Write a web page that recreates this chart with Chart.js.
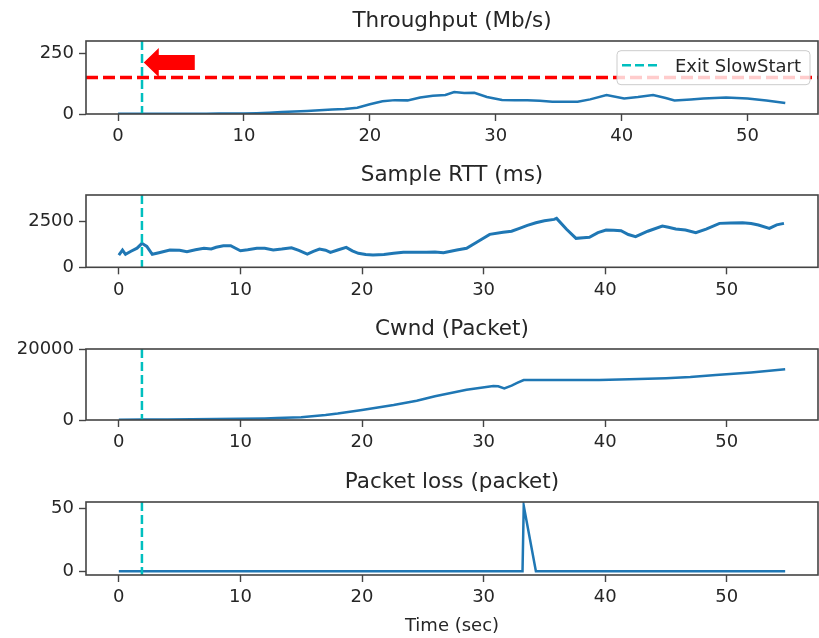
<!DOCTYPE html>
<html>
<head>
<meta charset="utf-8">
<title>TCP flow metrics</title>
<script src="https://cdn.jsdelivr.net/npm/chart.js@4.4.1/dist/chart.umd.min.js"></script>
<style>
  html, body { margin: 0; padding: 0; background: #fff; }
  #wrap { position: relative; width: 819px; height: 638px; overflow: hidden; }
  .panel { position: absolute; left: 0; width: 819px; }
  .panel canvas { display: block; }
</style>
</head>
<body>
<div id="wrap">
  <div class="panel" style="top:0px"><canvas id="throughput-chart" width="819" height="154"></canvas></div>
  <div class="panel" style="top:154px"><canvas id="rtt-chart" width="819" height="154"></canvas></div>
  <div class="panel" style="top:308px"><canvas id="cwnd-chart" width="819" height="154"></canvas></div>
  <div class="panel" style="top:461px"><canvas id="loss-chart" width="819" height="177"></canvas></div>
</div>
<script>
// --- data (seconds since flow start) ---
const throughputTime = [0, 1, 2, 3, 4, 5, 6, 7, 8, 9, 10, 11, 12, 13, 14, 15, 16, 17, 18, 19, 20, 21, 22, 23, 24, 25, 26, 26.7, 27.5, 28.3, 29.3, 30.5, 31.5, 32.5, 33.5, 34.5, 36.5, 37.5, 38.8, 40.2, 41.3, 42.5, 43.5, 44.2, 45.5, 46.5, 48.3, 50, 51.5, 53];
const throughputMbps = [1, 1, 1, 1, 1, 1, 1, 1, 2, 2, 2, 3, 5, 8, 10, 12, 15, 18, 21, 26, 40, 52, 57, 56, 68, 75, 78, 90, 86, 87, 70, 58, 57, 57, 54, 50, 50, 60, 78, 64, 70, 78, 66, 56, 60, 64, 68, 64, 55, 45];

const rttTime = [0, 0.3, 0.55, 1, 1.5, 1.9, 2.3, 2.75, 3.3, 4.2, 5, 5.6, 6.3, 7, 7.6, 8, 8.6, 9.2, 10, 10.6, 11.35, 12, 12.7, 13.4, 14.2, 14.8, 15.5, 16, 16.5, 17, 17.4, 18, 18.7, 19.2, 19.7, 20.3, 20.9, 21.8, 22.6, 23.4, 24.3, 25.3, 26, 26.7, 27.3, 27.8, 28.6, 29.5, 30.5, 31.6, 32.3, 32.95, 33.6, 34.3, 35, 35.8, 36, 36.8, 37.6, 38.2, 38.7, 39.4, 40.07, 40.7, 41.3, 41.9, 42.5, 43.5, 44.7, 45.2, 45.8, 46.6, 47.45, 48.3, 49.4, 50.3, 51.3, 52, 52.6, 53.5, 54.1, 54.7];
const rttMs = [674, 948, 712, 880, 1050, 1316, 1150, 712, 800, 948, 930, 855, 960, 1042, 1010, 1100, 1184, 1184, 910, 960, 1042, 1040, 948, 1000, 1075, 930, 729, 880, 1003, 940, 822, 950, 1096, 900, 767, 700, 674, 700, 767, 822, 830, 822, 840, 800, 880, 948, 1042, 1400, 1809, 1919, 1980, 2138, 2300, 2445, 2560, 2632, 2686, 2100, 1590, 1620, 1645, 1900, 2045, 2040, 2007, 1800, 1678, 1980, 2264, 2200, 2100, 2050, 1897, 2100, 2412, 2430, 2445, 2400, 2319, 2138, 2330, 2412];

const cwndTime = [0, 2, 4, 6, 8, 10, 12, 13, 15, 17, 18, 20, 22.6, 24.5, 26, 28.6, 30.8, 31.2, 31.7, 32.3, 32.8, 33.3, 36, 39.5, 42, 45, 47, 49.1, 52, 54.8];
const cwndPackets = [100, 120, 150, 200, 260, 340, 450, 550, 760, 1400, 1800, 2820, 4225, 5400, 6700, 8500, 9580, 9500, 8920, 9700, 10500, 11270, 11280, 11300, 11450, 11750, 12100, 12680, 13400, 14280];

const lossTime = [0, 33.2, 33.3, 34.3, 54.8];
const lossPackets = [0, 0, 52, 0, 0];

// --- annotations and ticks ---
const exitSlowStart = 1.9;
const throughputLimit = 150;
const xTicks = [0, 10, 20, 30, 40, 50];
const throughputTicks = [0, 250];
const rttTicks = [0, 2500];
const cwndTicks = [0, 20000];
const lossTicks = [0, 50];

const FONT = 'DejaVu Sans';
const TEXT = '#262626';
const SPINE = '#444444';
const BLUE = '#1f77b4';
const CYAN = '#00bfbf';

Chart.defaults.font.family = FONT;
Chart.defaults.color = TEXT;

function toPoints(xs, ys) {
    return xs.map((x, i) => ({ x: x, y: ys[i] }));
}

// frame around the plot area, panel title, slow start marker and reference line
const axesDecor = {
    id: 'axesDecor',
    afterDatasetsDraw(chart, args, opts) {
        const { ctx, chartArea: a, scales } = chart;
        ctx.save();
        ctx.beginPath();
        ctx.rect(a.left, a.top, a.right - a.left, a.bottom - a.top);
        ctx.clip();
        if (opts.hline !== undefined) {
            const y = scales.y.getPixelForValue(opts.hline);
            ctx.strokeStyle = '#ff0000';
            ctx.lineWidth = 3.5;
            ctx.setLineDash([12, 5]);
            ctx.beginPath();
            ctx.moveTo(a.left, y);
            ctx.lineTo(a.right, y);
            ctx.stroke();
        }
        const x = scales.x.getPixelForValue(exitSlowStart);
        ctx.strokeStyle = CYAN;
        ctx.lineWidth = 2.5;
        ctx.setLineDash([9, 4]);
        ctx.beginPath();
        ctx.moveTo(x, a.top);
        ctx.lineTo(x, a.bottom);
        ctx.stroke();
        ctx.restore();

        ctx.save();
        ctx.strokeStyle = SPINE;
        ctx.lineWidth = 1.6;
        ctx.strokeRect(a.left, a.top, a.right - a.left, a.bottom - a.top);

        // title, centred over the plot area
        ctx.fillStyle = TEXT;
        ctx.font = '21.5px "' + FONT + '"';
        ctx.textAlign = 'center';
        ctx.textBaseline = 'middle';
        ctx.fillText(opts.title, (a.left + a.right) / 2, a.top - 20);
        ctx.restore();
    },
    afterDraw(chart, args, opts) {
        if (!opts.legend) return;
        const { ctx, chartArea: a, scales } = chart;

        // legend box, top right
        const w = 193, h = 34;
        const lx = a.right - 8 - w, ly = a.top + 9.7;
        ctx.save();
        ctx.fillStyle = 'rgba(255,255,255,0.8)';
        ctx.strokeStyle = '#cccccc';
        ctx.lineWidth = 1;
        ctx.beginPath();
        ctx.roundRect(lx, ly, w, h, 4);
        ctx.fill();
        ctx.stroke();
        ctx.strokeStyle = CYAN;
        ctx.lineWidth = 2.5;
        ctx.setLineDash([9, 4]);
        ctx.beginPath();
        ctx.moveTo(lx + 5, ly + 14.6);
        ctx.lineTo(lx + 43, ly + 14.6);
        ctx.stroke();
        ctx.setLineDash([]);
        ctx.fillStyle = TEXT;
        ctx.font = '18px "' + FONT + '"';
        ctx.textBaseline = 'middle';
        ctx.fillText(opts.legend, lx + 58, ly + 16.5);

        // red arrow pointing at the slow start exit
        const tx = scales.x.getPixelForValue(2.0) + 0.5;
        const ty = scales.y.getPixelForValue(212);
        ctx.fillStyle = '#ff0000';
        ctx.beginPath();
        ctx.moveTo(tx, ty);
        ctx.lineTo(tx + 15, ty - 14.5);
        ctx.lineTo(tx + 15, ty - 7.5);
        ctx.lineTo(tx + 51, ty - 7.5);
        ctx.lineTo(tx + 51, ty + 7.5);
        ctx.lineTo(tx + 15, ty + 7.5);
        ctx.lineTo(tx + 15, ty + 14.5);
        ctx.closePath();
        ctx.fill();
        ctx.restore();
    }
};

function makePanel(id, cfg) {
    const ctx = document.getElementById(id);
    return new Chart(ctx, {
        type: 'line',
        data: {
            datasets: [{
                data: toPoints(cfg.xs, cfg.ys),
                borderColor: BLUE,
                borderWidth: cfg.lineWidth || 2.5,
                pointRadius: 0,
                tension: 0,
                fill: false
            }]
        },
        options: {
            responsive: false,
            animation: false,
            devicePixelRatio: 1,
            layout: { padding: { left: 0, right: 1, top: 41, bottom: 0 } },
            plugins: {
                legend: { display: false },
                tooltip: { enabled: false },
                title: { display: false },
                axesDecor: { hline: cfg.hline, legend: cfg.legend, title: cfg.title }
            },
            scales: {
                x: {
                    type: 'linear',
                    min: cfg.xMin,
                    max: cfg.xMax,
                    afterBuildTicks: axis => { axis.ticks = xTicks.map(v => ({ value: v })); },
                    afterFit: axis => { axis.height = cfg.xHeight; },
                    ticks: {
                        color: TEXT,
                        font: { size: 18 },
                        padding: 5,
                        maxRotation: 0,
                        callback: v => String(v)
                    },
                    grid: { drawOnChartArea: false, drawTicks: true, tickLength: 7, tickColor: SPINE, tickWidth: 1.4 },
                    border: { display: false },
                    title: {
                        display: !!cfg.xTitle,
                        text: cfg.xTitle || '',
                        color: TEXT,
                        font: { size: 18 },
                        padding: { top: 4, bottom: 1 }
                    }
                },
                y: {
                    min: cfg.yMin,
                    max: cfg.yMax,
                    afterBuildTicks: axis => { axis.ticks = cfg.yTicks.map(v => ({ value: v })); },
                    afterFit: axis => { axis.width = 86; },
                    ticks: {
                        color: TEXT,
                        font: { size: 18 },
                        padding: 5,
                        callback: v => String(v)
                    },
                    grid: { drawOnChartArea: false, drawTicks: true, tickLength: 7, tickColor: SPINE, tickWidth: 1.4 },
                    border: { display: false }
                }
            }
        },
        plugins: [axesDecor]
    });
}

makePanel('throughput-chart', {
    title: 'Throughput (Mb/s)',
    xs: throughputTime, ys: throughputMbps,
    xMin: -2.55, xMax: 55.6, yMin: 0, yMax: 300,
    yTicks: throughputTicks, xHeight: 40,
    hline: throughputLimit, legend: 'Exit SlowStart'
});

makePanel('rtt-chart', {
    title: 'Sample RTT (ms)',
    xs: rttTime, ys: rttMs,
    xMin: -2.7, xMax: 57.5, yMin: 0, yMax: 3970,
    yTicks: rttTicks, xHeight: 40.7, lineWidth: 3
});

makePanel('cwnd-chart', {
    title: 'Cwnd (Packet)',
    xs: cwndTime, ys: cwndPackets,
    xMin: -2.7, xMax: 57.5, yMin: 0, yMax: 20000,
    yTicks: cwndTicks, xHeight: 42
});

makePanel('loss-chart', {
    title: 'Packet loss (packet)',
    xs: lossTime, ys: lossPackets,
    xMin: -2.7, xMax: 57.5, yMin: -3, yMax: 55,
    yTicks: lossTicks, xHeight: 63, xTitle: 'Time (sec)'
});
</script>
</body>
</html>
